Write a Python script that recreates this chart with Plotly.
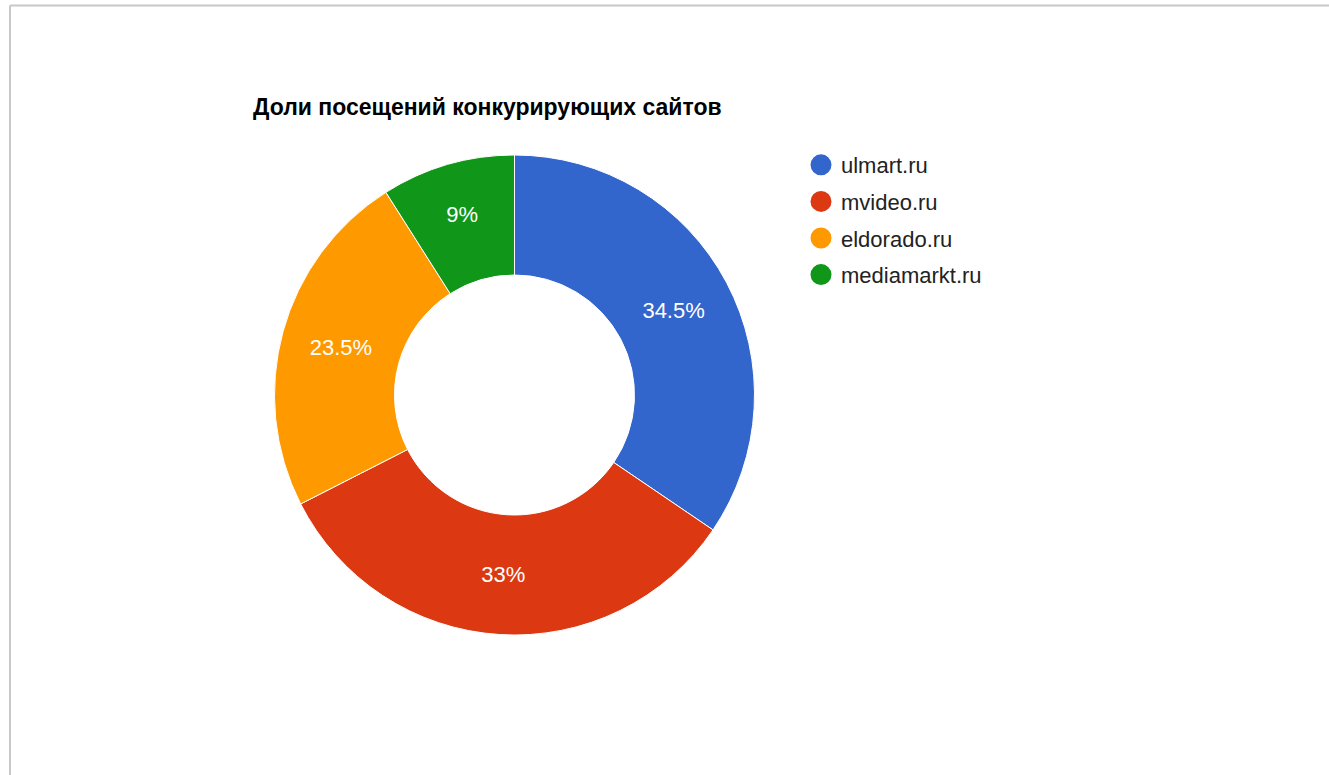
import plotly.graph_objects as go

W, H = 1329, 775

sites = ["ulmart.ru", "mvideo.ru", "eldorado.ru", "mediamarkt.ru"]
shares = [34.5, 33, 23.5, 9]
colors = ["#3366cc", "#dc3912", "#ff9900", "#109618"]
title_text = "Доли посещений конкурирующих сайтов"

FONT = "Liberation Sans, Arial, sans-serif"

fig = go.Figure()
fig.add_trace(go.Pie(
    labels=sites, values=shares, sort=False, direction="clockwise", rotation=0,
    hole=0.5,
    marker=dict(colors=colors, line=dict(color="white", width=1)),
    texttemplate="%{percent:.1~%}", textposition="inside",
    insidetextorientation="horizontal",
    textfont=dict(color="white", size=22, family=FONT),
    showlegend=False,
    domain=dict(x=[274 / W, 755 / W], y=[(H - 635) / H, (H - 155) / H]),
    hoverinfo="label+percent",
))
for s, c in zip(sites, colors):
    fig.add_trace(go.Scatter(
        x=[None], y=[None], mode="markers", name=s, legendgroup=s,
        marker=dict(color=c, size=16, symbol="circle", line=dict(color=c, width=5)),
    ))

fig.update_layout(
    width=W, height=H,
    margin=dict(l=0, r=0, t=0, b=0),
    paper_bgcolor="white", plot_bgcolor="white",
    font=dict(family=FONT, color="#222222"),
    title=dict(text="<b>" + title_text + "</b>", x=253 / W, xanchor="left",
               y=1 - 107 / H, yanchor="middle",
               font=dict(size=23, color="#000000", family=FONT)),
    xaxis=dict(visible=False), yaxis=dict(visible=False),
    legend=dict(x=801 / W, xanchor="left", y=1 - 144 / H, yanchor="top",
                font=dict(size=22, color="#222222"), tracegroupgap=5,
                itemsizing="trace", bgcolor="rgba(0,0,0,0)"),
    shapes=[
        dict(type="line", xref="paper", yref="paper", x0=10 / W, x1=1, y0=1 - 5.5 / H, y1=1 - 5.5 / H,
             line=dict(color="#c8c8c8", width=2)),
        dict(type="line", xref="paper", yref="paper", x0=10 / W, x1=10 / W, y0=0, y1=1 - 5.5 / H,
             line=dict(color="#c8c8c8", width=2)),
    ],
)

fig.write_html("out.html", config={"displayModeBar": False},
               post_script="document.body.style.margin='0';")
